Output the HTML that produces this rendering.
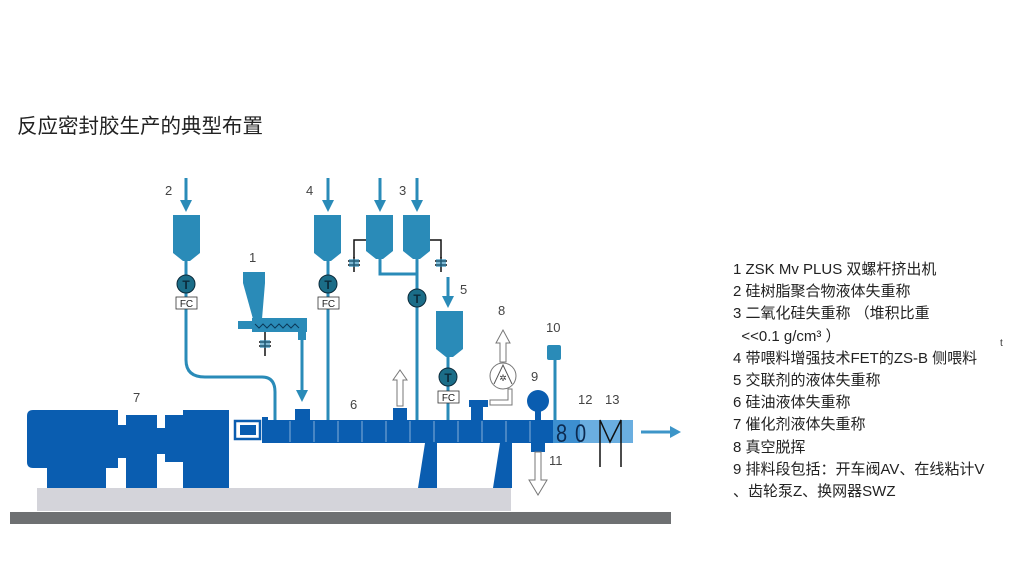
<!DOCTYPE html>
<html><head><meta charset="utf-8"><style>
html,body{margin:0;padding:0;background:#fff;}
body{width:1025px;height:577px;position:relative;overflow:hidden;font-family:"Liberation Sans","Noto Sans CJK SC",sans-serif;}
.t{position:absolute;left:17px;top:109px;font-size:20.5px;color:#222;}
.lg{position:absolute;left:733px;top:259px;font-size:15px;line-height:22.2px;color:#222;white-space:nowrap;}
</style></head><body>
<div class="t">反应密封胶生产的典型布置</div>
<div class="lg">1 ZSK Mv PLUS 双螺杆挤出机<br>2 硅树脂聚合物液体失重称<br>3 二氧化硅失重称 （堆积比重<br>&nbsp;&nbsp;&lt;&lt;0.1 g/cm³ ）<br>4 带喂料增强技术FET的ZS-B 侧喂料<br>5 交联剂的液体失重称<br>6 硅油液体失重称<br>7 催化剂液体失重称<br>8 真空脱挥<br>9 排料段包括：开车阀AV、在线粘计V<br>、齿轮泵Z、换网器SWZ</div>
<div style="position:absolute;left:1000px;top:338px;font-size:10px;color:#333">t</div>
<svg width="1025" height="577" style="position:absolute;left:0;top:0" font-family="Liberation Sans,sans-serif">
<defs>
<marker id="ah" markerWidth="4" markerHeight="4" refX="2" refY="2" orient="auto" markerUnits="strokeWidth"><path d="M0,0L4,2L0,4Z" fill="#2a8bb8"/></marker>
</defs>
<rect x="37" y="488" width="474" height="23" fill="#d4d4da"/>
<rect x="10" y="512" width="661" height="12" fill="#6e7072"/>
<g fill="#0a5db0">
<path d="M33,410H118V468H33Q27,468 27,462V416Q27,410 33,410Z"/>
<rect x="47" y="468" width="59" height="20"/>
<rect x="118" y="425" width="8" height="33"/>
<rect x="126" y="415" width="31" height="73"/>
<rect x="157" y="428" width="8" height="26"/>
<rect x="165" y="415" width="18" height="47"/>
<rect x="183" y="410" width="46" height="78"/>
<rect x="262" y="417" width="6" height="26"/>
<rect x="268" y="420" width="285" height="23"/>
<path d="M425,443H437V488H418Z"/><path d="M500,443H512V488H493Z"/>
<rect x="295" y="409" width="15" height="11"/>
<rect x="393" y="408" width="14" height="12"/>
<rect x="469" y="400" width="19" height="7"/><rect x="471" y="407" width="12" height="13"/>
<circle cx="538" cy="401" r="11"/><rect x="535" y="410" width="6" height="10"/>
<rect x="531" y="443" width="14" height="9"/>
</g>
<g fill="none" stroke="#0a5db0" stroke-width="2.5"><rect x="235" y="421" width="25" height="18"/></g>
<rect x="240" y="425" width="16" height="10" fill="#0a5db0"/>
<g stroke="#fff" stroke-width="1" opacity=".5">
<line x1="290" y1="421" x2="290" y2="442"/><line x1="314" y1="421" x2="314" y2="442"/><line x1="338" y1="421" x2="338" y2="442"/><line x1="362" y1="421" x2="362" y2="442"/><line x1="386" y1="421" x2="386" y2="442"/><line x1="410" y1="421" x2="410" y2="442"/><line x1="434" y1="421" x2="434" y2="442"/><line x1="458" y1="421" x2="458" y2="442"/><line x1="482" y1="421" x2="482" y2="442"/><line x1="506" y1="421" x2="506" y2="442"/><line x1="530" y1="421" x2="530" y2="442"/>
</g>
<rect x="553" y="420" width="27" height="23" fill="#3d8fd0"/>
<rect x="580" y="420" width="53" height="23" fill="#6aaee0"/>
<text x="556" y="442" font-size="25" fill="#0c2a50" transform="translate(556,442) scale(0.8,1) translate(-556,-442)">8</text><text x="575" y="442" font-size="25" fill="#0c2a50" transform="translate(575,442) scale(0.8,1) translate(-575,-442)">0</text>
<path d="M600,467V420L610,442L621,420V467" fill="none" stroke="#111" stroke-width="1.5"/>
<line x1="641" y1="432" x2="672" y2="432" stroke="#3d95c8" stroke-width="3"/><path d="M670,426L681,432L670,438Z" fill="#3d95c8"/>
<g fill="#2a8bb8" stroke="none">
<path d="M173,215H200V253L190,261H183L173,253Z"/>
<path d="M314,215H341V253L331,261H324L314,253Z"/>
<path d="M366,215H393V251L383,259H376L366,251Z"/>
<path d="M403,215H430V251L420,259H413L403,251Z"/>
<path d="M436,311H463V349L453,357H446L436,349Z"/>
<path d="M243,272H265V283L262,319H253L243,283Z"/>
<rect x="252" y="318" width="55" height="14"/>
<rect x="238" y="321" width="14" height="8"/>
<rect x="298" y="332" width="8" height="8"/>
<rect x="547" y="345" width="14" height="15" rx="2"/>
</g>
<path d="M255,324l4,4l4,-4l4,4l4,-4l4,4l4,-4l4,4l4,-4l4,4l4,-4l4,4" fill="none" stroke="#0c3a5a" stroke-width="1"/>
<g stroke="#2a8bb8" stroke-width="3" fill="none">
<line x1="186" y1="178" x2="186" y2="206" marker-end="url(#ah)"/>
<line x1="328" y1="178" x2="328" y2="206" marker-end="url(#ah)"/>
<line x1="380" y1="178" x2="380" y2="206" marker-end="url(#ah)"/>
<line x1="417" y1="178" x2="417" y2="206" marker-end="url(#ah)"/>
<line x1="448" y1="277" x2="448" y2="302" marker-end="url(#ah)"/>
<line x1="302" y1="340" x2="302" y2="396" marker-end="url(#ah)"/>
<path d="M186,261V298M186,309V360Q186,377 205,377H262Q275,377 275,392V420"/>
<path d="M328,261V420"/>
<path d="M380,259V274H417M417,259V420"/>
<path d="M448,357V420"/>
<path d="M555,360V420"/>
</g>
<g fill="#1b6d88" stroke="#0c2a3a" stroke-width="1">
<circle cx="186" cy="284" r="9"/><circle cx="328" cy="284" r="9"/><circle cx="417" cy="298" r="9"/><circle cx="448" cy="377" r="9"/>
</g>
<g font-size="12" fill="#0c2a3a" text-anchor="middle" font-weight="bold">
<text x="186" y="289">T</text><text x="328" y="289">T</text><text x="417" y="303">T</text><text x="448" y="382">T</text>
</g>
<g fill="#fff" stroke="#333" stroke-width="0.8">
<rect x="176" y="297" width="21" height="12"/><rect x="318" y="297" width="21" height="12"/><rect x="438" y="391" width="21" height="12"/>
</g>
<g font-size="10" fill="#222" text-anchor="middle">
<text x="186.5" y="307">FC</text><text x="328.5" y="307">FC</text><text x="448.5" y="401">FC</text>
</g>
<g stroke="#111" stroke-width="1.5" fill="none">
<path d="M366,240H354V258M430,240H441V258"/>
<path d="M265,332V356M259,342H271M259,346H271"/>
<path d="M354,257V272M348,261H360M348,265H360"/>
<path d="M441,257V272M435,261H447M435,265H447"/>
</g>
<rect x="260" y="340" width="10" height="8" fill="#2a8bb8" opacity=".6"/>
<rect x="349" y="259" width="10" height="8" fill="#2a8bb8" opacity=".6"/>
<rect x="436" y="259" width="10" height="8" fill="#2a8bb8" opacity=".6"/>
<g fill="#fff" stroke="#777" stroke-width="1">
<path d="M397,406V380H393L400,370L407,380H403V406Z"/>
<path d="M500,362V343H496L503,330L510,343H506V362Z"/>
<path d="M535,452V480H529L538,495L547,480H541V452Z"/>
<circle cx="503" cy="376" r="13"/>
<path d="M508,389V400H490V405H512V389Z"/>
</g>
<path d="M494,384L503,365L512,384" fill="none" stroke="#555"/>
<text x="503" y="381" font-size="9" text-anchor="middle" fill="#333">✲</text>
<g font-size="13" fill="#444">
<text x="165" y="195">2</text><text x="306" y="195">4</text><text x="399" y="195">3</text><text x="249" y="262">1</text><text x="460" y="294">5</text><text x="498" y="315">8</text><text x="546" y="332">10</text><text x="531" y="381">9</text><text x="350" y="409">6</text><text x="133" y="402">7</text><text x="578" y="404">12</text><text x="605" y="404">13</text><text x="549" y="465">11</text>
</g>
</svg>
</body></html>
